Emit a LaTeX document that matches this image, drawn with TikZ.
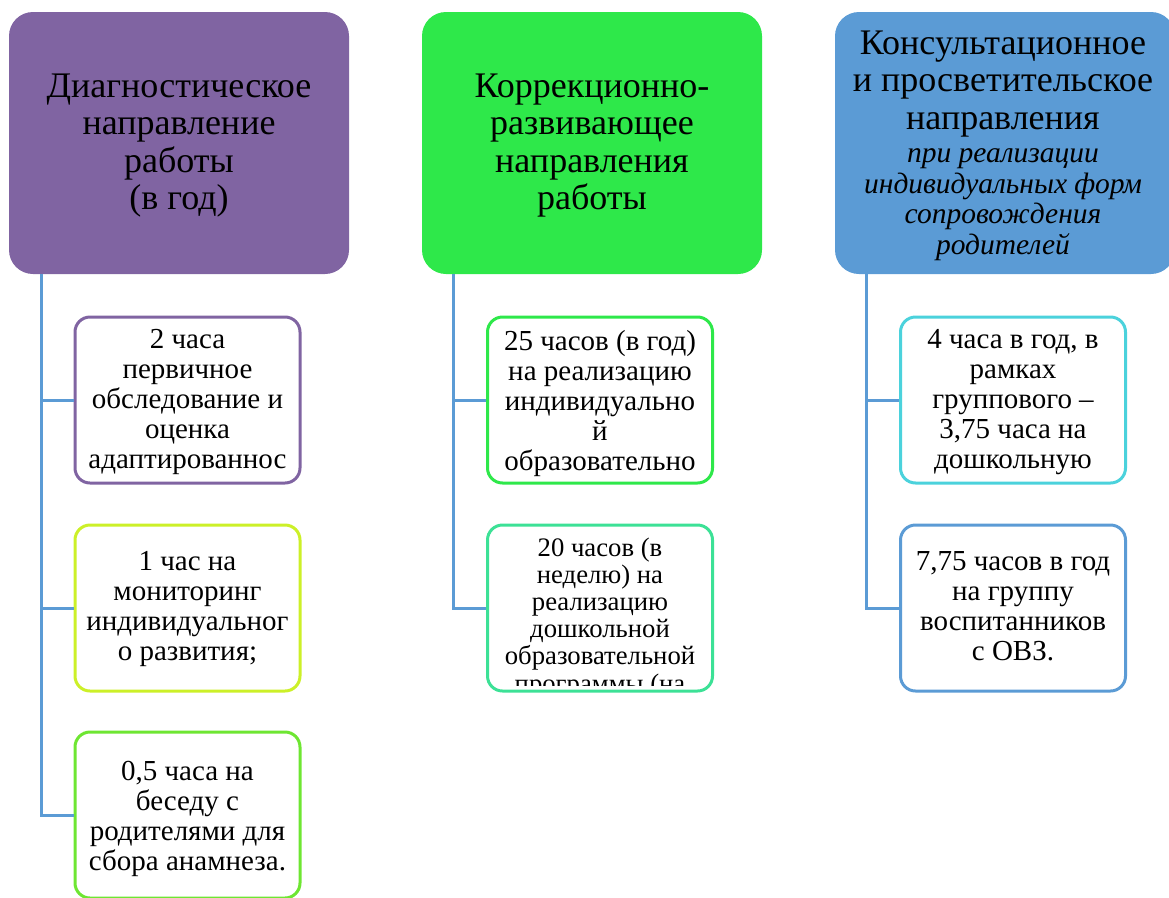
\documentclass[tikz,border=0pt]{standalone}
\usepackage{fontspec}
\setmainfont{Liberation Serif}
\definecolor{cPurple}{RGB}{128,100,162}
\definecolor{cGreen}{RGB}{46,232,74}
\definecolor{cBlue}{RGB}{91,155,213}
\definecolor{cLime}{RGB}{204,240,40}
\definecolor{cGreenB}{RGB}{110,230,50}
\definecolor{cTeal}{RGB}{60,225,150}
\definecolor{cCyan}{RGB}{75,210,220}
\begin{document}
\begin{tikzpicture}[x=1pt,y=-1pt,
  topbox/.style={fill=#1, draw=none, rounded corners=24pt, minimum width=340pt, minimum height=262pt, inner sep=0pt},
  childbox/.style={draw=#1, fill=white, line width=3pt, rounded corners=15pt, minimum width=225pt, minimum height=166pt, inner sep=0pt},
  toptext/.style={anchor=base, align=center, inner sep=0pt, font=\fontsize{36}{37.5}\selectfont},
  toptextit/.style={anchor=base, align=center, inner sep=0pt, font=\fontsize{29.5}{30.5}\selectfont\itshape},
  childtext/.style={anchor=base, align=center, inner sep=0pt, font=\fontsize{29}{30}\selectfont},
  childtextsm/.style={anchor=base, align=center, inner sep=0pt, font=\fontsize{26.7}{27.2}\selectfont},
  conn/.style={draw=cBlue, line width=3pt}]
\useasboundingbox (0,0) rectangle (1169,897);

% top boxes
\node[topbox=cPurple] (b1) at (179,143) {};
\node[topbox=cGreen]  (b2) at (592,143) {};
\node[topbox=cBlue]   (b3) at (1005,143) {};

% top texts (base = baseline of last line)
\node[toptext] (t1) at (179,209.5) {Диагностическое\\направление\\работы\\(в год)};
\node[toptext] (t2) at (592,209.5) {Коррекционно-\\развивающее\\направления\\работы};
\node[toptext] (t3) at (1003,129) {Консультационное\\и просветительское\\направления};
\node[toptextit] (t3i) at (1003,254) {при реализации\\индивидуальных форм\\сопровождения\\родителей};

% child boxes
\node[childbox=cPurple]  (c11) at (187.5,400) {};
\node[childbox=cLime]    (c12) at (187.5,608) {};
\node[childbox=cGreenB]  (c13) at (187.5,815) {};
\node[childbox=cGreen]   (c21) at (600,400) {};
\node[childbox=cTeal]    (c22) at (600,608) {};
\node[childbox=cCyan]    (c31) at (1013,400) {};
\node[childbox=cBlue]    (c32) at (1013,608) {};

% connectors
\draw[conn] ([xshift=33pt]b1.south west) |- (c11.west);
\draw[conn] ([xshift=33pt]b1.south west) |- (c12.west);
\draw[conn] ([xshift=33pt]b1.south west) |- (c13.west);
\draw[conn] ([xshift=32pt]b2.south west) |- (c21.west);
\draw[conn] ([xshift=32pt]b2.south west) |- (c22.west);
\draw[conn] ([xshift=32pt]b3.south west) |- (c31.west);
\draw[conn] ([xshift=32pt]b3.south west) |- (c32.west);

% child texts (base = baseline of last line)
\node[childtext] (x11) at (187.5,468) {2 часа\\первичное\\обследование и\\оценка\\адаптированнос};
\node[childtext] (x12) at (187.5,660) {1 час на\\мониторинг\\индивидуальног\\о развития;};
\node[childtext] (x13) at (187.5,870) {0,5 часа на\\беседу с\\родителями для\\сбора анамнеза.};
\node[childtext] (x21) at (600,470) {25 часов (в год)\\на реализацию\\индивидуально\\й\\образовательно};
\begin{scope}
\clip (488,527) rectangle (712,685);
\node[childtextsm] (x22) at (600,692) {20 часов (в\\неделю) на\\реализацию\\дошкольной\\образовательной\\программы (на};
\end{scope}
\node[childtext] (x31) at (1013,468) {4 часа в год, в\\рамках\\группового –\\3,75 часа на\\дошкольную};
\node[childtext] (x32) at (1013,660) {7,75 часов в год\\на группу\\воспитанников\\с ОВЗ.};
\end{tikzpicture}
\end{document}
